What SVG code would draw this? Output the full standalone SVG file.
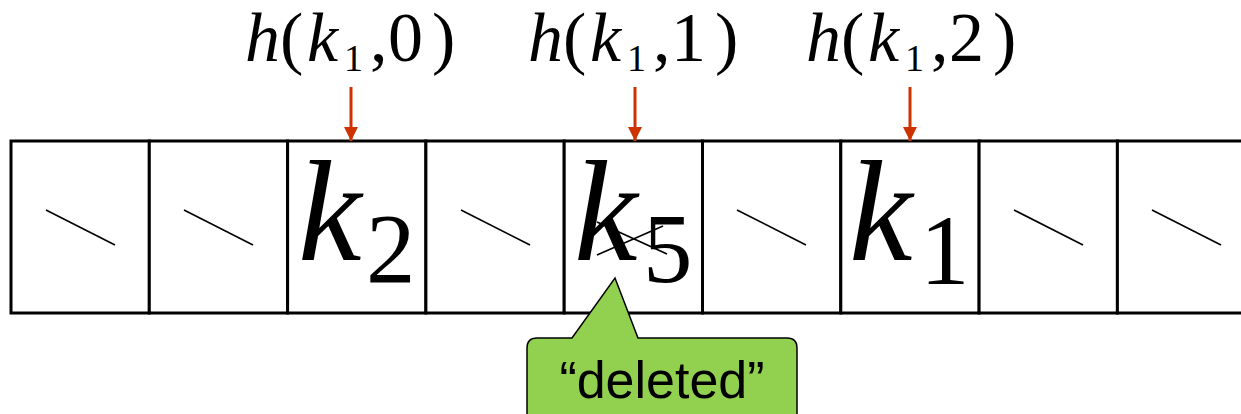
<svg xmlns="http://www.w3.org/2000/svg" width="1241" height="414" viewBox="0 0 1241 414">
<defs>
<style>
.cell{fill:#fff;stroke:#000;stroke-width:3}
.slash{stroke:#000;stroke-width:1.6}
.mi{font-family:"Liberation Serif",serif;font-style:italic}
.mr{font-family:"Liberation Serif",serif}
.lbl{font-family:"Liberation Serif",serif;font-size:70px;fill:#000}
.arr{stroke:#CC3300;stroke-width:3;fill:none}
.cross{stroke:#000;stroke-width:1.6}
</style>
<marker id="ah" viewBox="0 0 14 14" refX="14" refY="7" markerWidth="14" markerHeight="14" markerUnits="userSpaceOnUse" orient="auto">
<path d="M0,0 L14,7 L0,14 Z" fill="#CC3300"/>
</marker>
</defs>
<rect width="1241" height="414" fill="#fff"/>
<g id="table">
<rect class="cell" x="11" y="141" width="138.3" height="172"/>
<rect class="cell" x="149.3" y="141" width="138.3" height="172"/>
<rect class="cell" x="287.6" y="141" width="138.3" height="172"/>
<rect class="cell" x="425.9" y="141" width="138.3" height="172"/>
<rect class="cell" x="564.2" y="141" width="138.3" height="172"/>
<rect class="cell" x="702.5" y="141" width="138.3" height="172"/>
<rect class="cell" x="840.8" y="141" width="138.3" height="172"/>
<rect class="cell" x="979.1" y="141" width="138.3" height="172"/>
<rect class="cell" x="1117.4" y="141" width="138.3" height="172"/>
</g>
<g id="slashes">
<line class="slash" x1="46" y1="210" x2="115" y2="245"/>
<line class="slash" x1="184" y1="210" x2="253" y2="245"/>
<line class="slash" x1="461" y1="210" x2="530" y2="245"/>
<line class="slash" x1="737" y1="210" x2="806" y2="245"/>
<line class="slash" x1="1014" y1="210" x2="1083" y2="245"/>
<line class="slash" x1="1152" y1="210" x2="1221" y2="245"/>
</g>
<g id="k2">
<text x="298" y="260" class="mi" font-size="143">k</text>
<text x="366" y="282" class="mr" font-size="99">2</text>
</g>
<g id="k5">
<text x="574" y="260" class="mi" font-size="143">k</text>
<text x="643" y="282" class="mr" font-size="99">5</text>
<line class="cross" x1="597" y1="222" x2="667" y2="254"/>
<line class="cross" x1="597" y1="255" x2="663" y2="226"/>
</g>
<g id="k1">
<text x="849" y="260" class="mi" font-size="143">k</text>
<text x="920" y="284" class="mr" font-size="99">1</text>
</g>
<g id="label0" class="lbl">
<text x="245" y="61" class="mi">h</text>
<text x="280" y="61">(</text>
<text x="307" y="61" class="mi">k</text>
<text x="344" y="71" font-size="38">1</text>
<text x="370" y="61">,</text>
<text x="388" y="61">0</text>
<text x="432" y="61">)</text>
</g>
<g id="label1" transform="translate(283,0)" class="lbl">
<text x="245" y="61" class="mi">h</text>
<text x="280" y="61">(</text>
<text x="307" y="61" class="mi">k</text>
<text x="344" y="71" font-size="38">1</text>
<text x="370" y="61">,</text>
<text x="388" y="61">1</text>
<text x="432" y="61">)</text>
</g>
<g id="label2" transform="translate(561,0)" class="lbl">
<text x="245" y="61" class="mi">h</text>
<text x="280" y="61">(</text>
<text x="307" y="61" class="mi">k</text>
<text x="344" y="71" font-size="38">1</text>
<text x="370" y="61">,</text>
<text x="388" y="61">2</text>
<text x="432" y="61">)</text>
</g>
<g id="connectors">
<line class="arr" x1="351" y1="87" x2="351" y2="141" marker-end="url(#ah)"/>
<line class="arr" x1="635" y1="87" x2="635" y2="141" marker-end="url(#ah)"/>
<line class="arr" x1="910" y1="87" x2="910" y2="141" marker-end="url(#ah)"/>
</g>
<g id="callout">
<path d="M537,338 L572,338 L615,278 L638,338 L787,338 Q797,338 797,348 L797,430 L527,430 L527,348 Q527,338 537,338 Z" fill="#92D050" stroke="#000" stroke-width="1.5"/>
<text x="662" y="398" text-anchor="middle" font-family="Liberation Sans, Arial, sans-serif" font-size="52">“deleted”</text>
</g>
</svg>
